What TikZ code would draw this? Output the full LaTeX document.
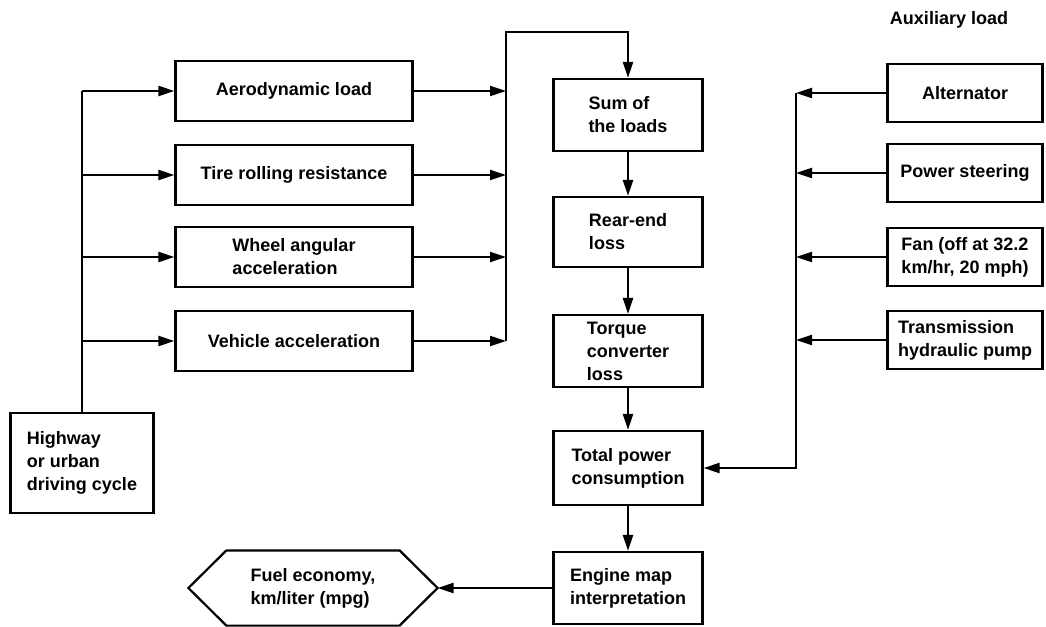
\documentclass[tikz,border=0pt]{standalone}
\usepackage{fontspec}
\setmainfont{Liberation Sans}
\usetikzlibrary{calc,arrows.meta}
\tikzset{
box/.style = {draw, line width = 2.2pt, align = left, inner sep = 3pt, font = \fontsize{18}{23}\selectfont\bfseries},
flow/.style = {line width = 2.2pt, -{Triangle[length=16pt,width=10pt]}},
bus/.style = {line width = 2.2pt}
}

\begin{document}
\begin{tikzpicture}[x=1pt,y=-1pt]
%
\useasboundingbox (0,0) rectangle (1046,626);
%
\def\loadlist{91/aero/Aerodynamic load,175/tire/Tire rolling resistance,257/wheel/Wheel angular\\acceleration,341/vehicle/Vehicle acceleration}
\def\auxlist{93/alt/Alternator,173/steer/Power steering,257/fan/{Fan (off at 32.2\\km/hr, 20 mph)},340/pump/Transmission\\hydraulic pump}
\def\colx{628}
\def\busin{82}
\def\busout{506}
\def\busaux{796}
%
\node[box, minimum width=143, minimum height=100] (cycle) at (\busin,463) {Highway\\or urban\\driving cycle};
%
\foreach \y/\name/\tag in \loadlist {
\node[box, minimum width=237, minimum height=60] (\name) at (294,\y) {\tag};
\coordinate (in\name) at (\busin,\y);
\coordinate (out\name) at (\busout,\y);
\draw[flow] (in\name) -- (\name);
\draw[flow] (\name) -- (out\name);
}
%
\draw[bus] (cycle.north) -- (inaero);
%
\node[box, minimum width=149, minimum height=72] (sum) at (\colx,115) {Sum of\\the loads};
\node[box, minimum width=149, minimum height=70] (rear) at (\colx,232) {Rear-end\\loss};
\node[box, minimum width=149, minimum height=72] (torque) at (\colx,351) {Torque\\converter\\loss};
\node[box, minimum width=149, minimum height=74] (total) at (\colx,468) {Total power\\consumption};
\node[box, minimum width=149, minimum height=72] (engine) at (\colx,588) {Engine map\\interpretation};
%
\coordinate (top) at (\busout,32);
\draw[flow] (outvehicle) -- (top) -| (sum.north);
\draw[flow] (sum) -- (rear);
\draw[flow] (rear) -- (torque);
\draw[flow] (torque) -- (total);
\draw[flow] (total) -- (engine);
%
\node[box, draw=none, minimum width=247, minimum height=73] (fuel) at (313,588) {Fuel economy,\\km/liter (mpg)};
\draw[bus] (fuel.west) -- ($(fuel.north west)+(38,0)$) -- ($(fuel.north east)+(-38,0)$) -- (fuel.east)
 -- ($(fuel.south east)+(-38,0)$) -- ($(fuel.south west)+(38,0)$) -- cycle;
\draw[flow] (engine) -- (fuel);
%
\node[box, draw=none] (auxtitle) at (949,20) {Auxiliary load};
\foreach \y/\name/\tag in \auxlist {
\node[box, minimum width=155, minimum height=58] (\name) at (965,\y) {\tag};
\coordinate (aux\name) at (\busaux,\y);
\draw[flow] (\name) -- (aux\name);
}
%
\draw[flow] (auxalt) |- (total);
%
\end{tikzpicture}
\end{document}
